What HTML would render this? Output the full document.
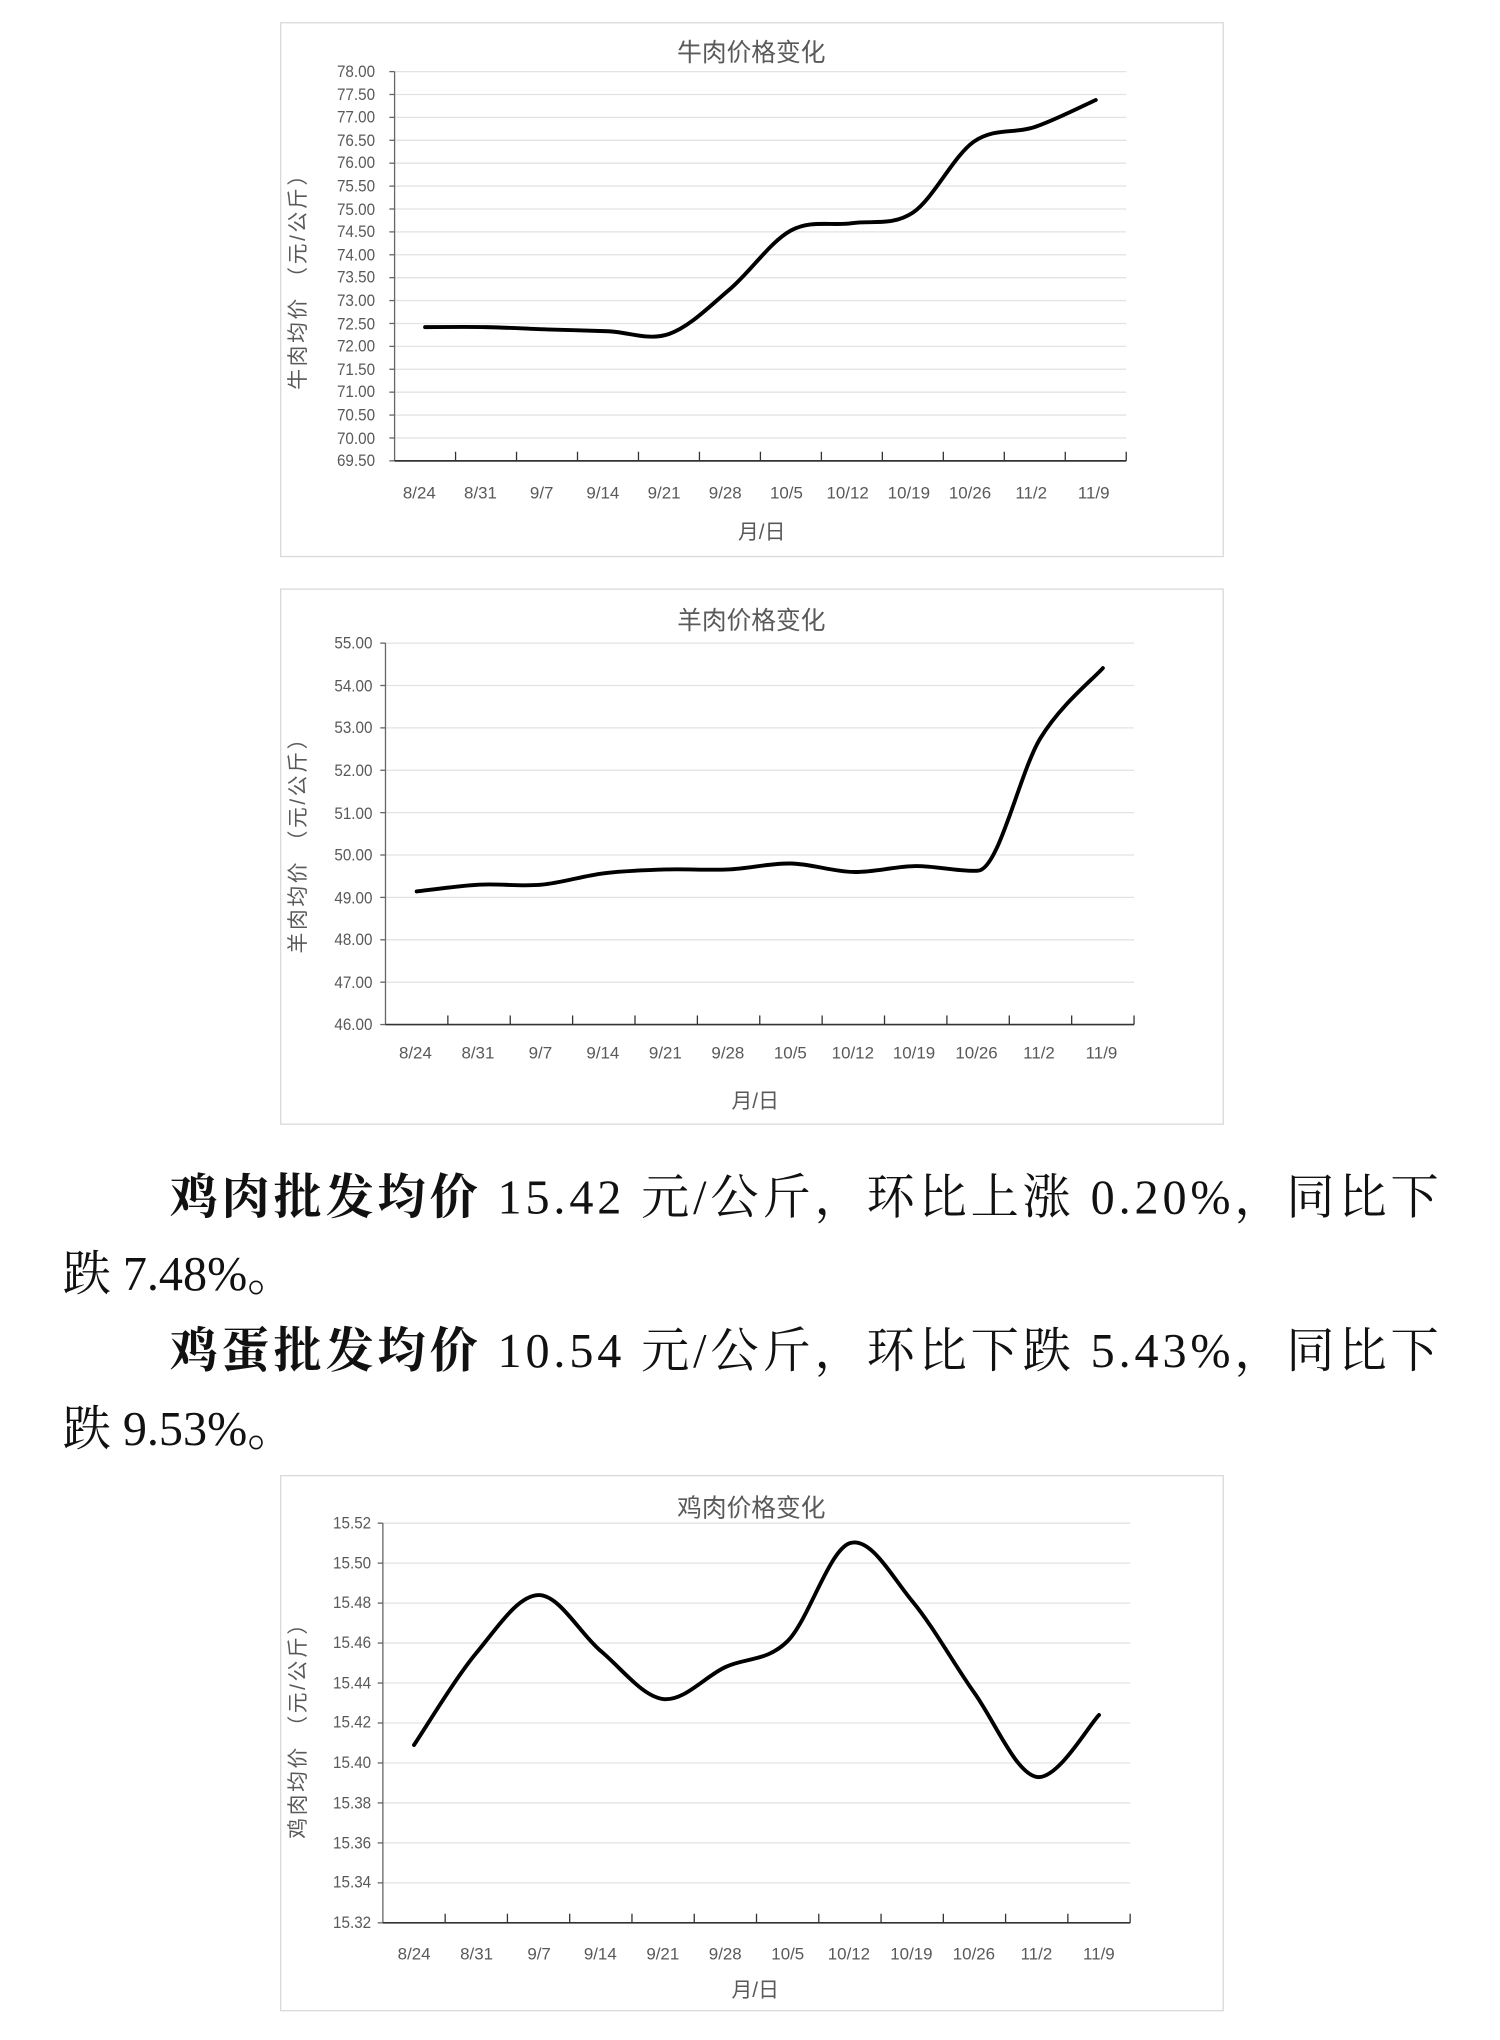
<!DOCTYPE html>
<html><head><meta charset="utf-8"><style>
html,body{margin:0;padding:0;background:#fff;}
svg{display:block;}
.t{font-family:"Liberation Sans","Noto Sans CJK SC",sans-serif;fill:#595959;}
.tk{font-size:13px;}
.para{font-family:"Liberation Serif","Noto Serif CJK SC",serif;font-size:37px;fill:#111;}
.yt{font-size:16px;letter-spacing:2px;}
</style></head><body>
<svg id="s" width="1500" height="2040" viewBox="0 0 1152 1567" xmlns="http://www.w3.org/2000/svg">
<rect x="215.5" y="17.5" width="724" height="410" fill="#fff" stroke="#d9d9d9"/>
<rect x="215.5" y="452.5" width="724" height="411" fill="#fff" stroke="#d9d9d9"/>
<rect x="215.5" y="1133.5" width="724" height="411" fill="#fff" stroke="#d9d9d9"/>
<g id="grid"></g>
<!-- chart 1 -->
<text class="t" x="577" y="47" font-size="19" text-anchor="middle" fill="#333">牛肉价格变化</text>
<g class="t tk" text-anchor="end" transform="translate(288,0) scale(0.9,1)">
<text x="0" y="59">78.00</text><text x="0" y="77">77.50</text><text x="0" y="94">77.00</text><text x="0" y="112">76.50</text><text x="0" y="129">76.00</text><text x="0" y="147">75.50</text><text x="0" y="165">75.00</text><text x="0" y="182">74.50</text><text x="0" y="200">74.00</text><text x="0" y="217">73.50</text><text x="0" y="235">73.00</text><text x="0" y="253">72.50</text><text x="0" y="270">72.00</text><text x="0" y="288">71.50</text><text x="0" y="305">71.00</text><text x="0" y="323">70.50</text><text x="0" y="341">70.00</text><text x="0" y="358">69.50</text>
</g>
<g class="t tk" text-anchor="middle">
<text x="322" y="383">8/24</text><text x="369" y="383">8/31</text><text x="416" y="383">9/7</text><text x="463" y="383">9/14</text><text x="510" y="383">9/21</text><text x="557" y="383">9/28</text><text x="604" y="383">10/5</text><text x="651" y="383">10/12</text><text x="698" y="383">10/19</text><text x="745" y="383">10/26</text><text x="792" y="383">11/2</text><text x="840" y="383">11/9</text>
</g>
<text class="t" x="585" y="414" font-size="16" text-anchor="middle">月/日</text>
<text class="t yt" text-anchor="middle" transform="translate(234,212) rotate(-90)">牛肉均价 （元/公斤）</text>
<!-- chart 2 -->
<text class="t" x="577" y="483" font-size="19" text-anchor="middle" fill="#333">羊肉价格变化</text>
<g class="t tk" text-anchor="end" transform="translate(286,0) scale(0.9,1)">
<text x="0" y="498">55.00</text><text x="0" y="531">54.00</text><text x="0" y="563">53.00</text><text x="0" y="596">52.00</text><text x="0" y="629">51.00</text><text x="0" y="661">50.00</text><text x="0" y="694">49.00</text><text x="0" y="726">48.00</text><text x="0" y="759">47.00</text><text x="0" y="791">46.00</text>
</g>
<g class="t tk" text-anchor="middle">
<text x="319" y="813">8/24</text><text x="367" y="813">8/31</text><text x="415" y="813">9/7</text><text x="463" y="813">9/14</text><text x="511" y="813">9/21</text><text x="559" y="813">9/28</text><text x="607" y="813">10/5</text><text x="655" y="813">10/12</text><text x="702" y="813">10/19</text><text x="750" y="813">10/26</text><text x="798" y="813">11/2</text><text x="846" y="813">11/9</text>
</g>
<text class="t" x="580" y="851" font-size="16" text-anchor="middle">月/日</text>
<text class="t yt" text-anchor="middle" transform="translate(234,645) rotate(-90)">羊肉均价 （元/公斤）</text>
<!-- paragraph -->
<text class="para" x="130" y="932" textLength="975" lengthAdjust="spacing"><tspan font-weight="bold" font-family="'Noto Serif CJK SC','Noto Sans CJK SC',serif">鸡肉批发均价</tspan> 15.42 元/公斤，环比上涨 0.20%，同比下</text>
<text class="para" x="48" y="991">跌 7.48%。</text>
<text class="para" x="130" y="1050" textLength="975" lengthAdjust="spacing"><tspan font-weight="bold" font-family="'Noto Serif CJK SC','Noto Sans CJK SC',serif">鸡蛋批发均价</tspan> 10.54 元/公斤，环比下跌 5.43%，同比下</text>
<text class="para" x="48" y="1110">跌 9.53%。</text>
<!-- chart 3 -->
<text class="t" x="577" y="1165" font-size="19" text-anchor="middle" fill="#333">鸡肉价格变化</text>
<g class="t tk" text-anchor="end" transform="translate(285,0) scale(0.9,1)">
<text x="0" y="1174">15.52</text><text x="0" y="1205">15.50</text><text x="0" y="1235">15.48</text><text x="0" y="1266">15.46</text><text x="0" y="1297">15.44</text><text x="0" y="1327">15.42</text><text x="0" y="1358">15.40</text><text x="0" y="1389">15.38</text><text x="0" y="1420">15.36</text><text x="0" y="1450">15.34</text><text x="0" y="1481">15.32</text>
</g>
<g class="t tk" text-anchor="middle">
<text x="318" y="1505">8/24</text><text x="366" y="1505">8/31</text><text x="414" y="1505">9/7</text><text x="461" y="1505">9/14</text><text x="509" y="1505">9/21</text><text x="557" y="1505">9/28</text><text x="605" y="1505">10/5</text><text x="652" y="1505">10/12</text><text x="700" y="1505">10/19</text><text x="748" y="1505">10/26</text><text x="796" y="1505">11/2</text><text x="844" y="1505">11/9</text>
</g>
<text class="t" x="580" y="1534" font-size="16" text-anchor="middle">月/日</text>
<text class="t yt" text-anchor="middle" transform="translate(234,1325) rotate(-90)">鸡肉均价 （元/公斤）</text>
<g id="lines"></g>
</svg>
<script>
var NS="http://www.w3.org/2000/svg";
function el(p,n,a){var e=document.createElementNS(NS,n);for(var k in a)e.setAttribute(k,a[k]);p.appendChild(e);return e;}
var G=document.getElementById('grid'),L=document.getElementById('lines');
function chart(c){
  var n=c.ticks, ytop=c.ytop, ybot=c.ybot;
  for(var i=0;i<n;i++){var y=ytop+(ybot-ytop)*i/n;el(G,'line',{x1:c.x0,x2:c.x1,y1:y,y2:y,stroke:'#e3e3e3','stroke-width':1});}
  el(G,'line',{x1:c.x0,x2:c.x0,y1:ytop,y2:ybot,stroke:'#666','stroke-width':1});
  for(var i=0;i<=n;i++){var y=ytop+(ybot-ytop)*i/n;el(G,'line',{x1:c.x0-4,x2:c.x0,y1:y,y2:y,stroke:'#666'});}
  el(G,'line',{x1:c.x0,x2:c.x1,y1:ybot,y2:ybot,stroke:'#333','stroke-width':1.3});
  var w=(c.x1-c.x0)/12;
  for(var i=1;i<=12;i++){var x=c.x0+w*i;el(G,'line',{x1:x,x2:x,y1:ybot-7,y2:ybot,stroke:'#333','stroke-width':1});}
  var p=c.d.map(function(v,i){return [c.x0+w*(i+.5), ybot-(v-c.min)/(c.max-c.min)*(ybot-ytop)];});
  var tg=p.map(function(q,i){var a=p[Math.max(i-1,0)],f=p[Math.min(i+1,p.length-1)];var s=(c.ts&&c.ts[i]!=null)?c.ts[i]:1;return [(f[0]-a[0])/6,(f[1]-a[1])/6*s];});
  var d='M'+p[0][0]+' '+p[0][1];
  for(var i=0;i<p.length-1;i++){
    var b=p[i],e=p[i+1];
    d+=' C'+(b[0]+tg[i][0])+' '+(b[1]+tg[i][1])+' '+(e[0]-tg[i+1][0])+' '+(e[1]-tg[i+1][1])+' '+e[0]+' '+e[1];
  }
  el(L,'path',{d:d,fill:'none',stroke:'#000','stroke-width':3,'stroke-linecap':'round','stroke-linejoin':'round'});
}
chart({x0:303,x1:865,ytop:55,ybot:354,ticks:17,min:69.5,max:78,d:[72.42,72.42,72.37,72.33,72.27,73.25,74.53,74.69,74.92,76.47,76.79,77.38]});
chart({x0:296,x1:871,ytop:494,ybot:787,ticks:9,min:46,max:55,d:[49.14,49.3,49.3,49.57,49.66,49.66,49.8,49.6,49.74,49.63,52.76,54.41],ts:{9:0.05}});
chart({x0:294,x1:868,ytop:1170,ybot:1477,ticks:10,min:15.32,max:15.52,d:[15.409,15.455,15.484,15.456,15.432,15.448,15.461,15.51,15.481,15.435,15.393,15.424]});
</script>
</body></html>
